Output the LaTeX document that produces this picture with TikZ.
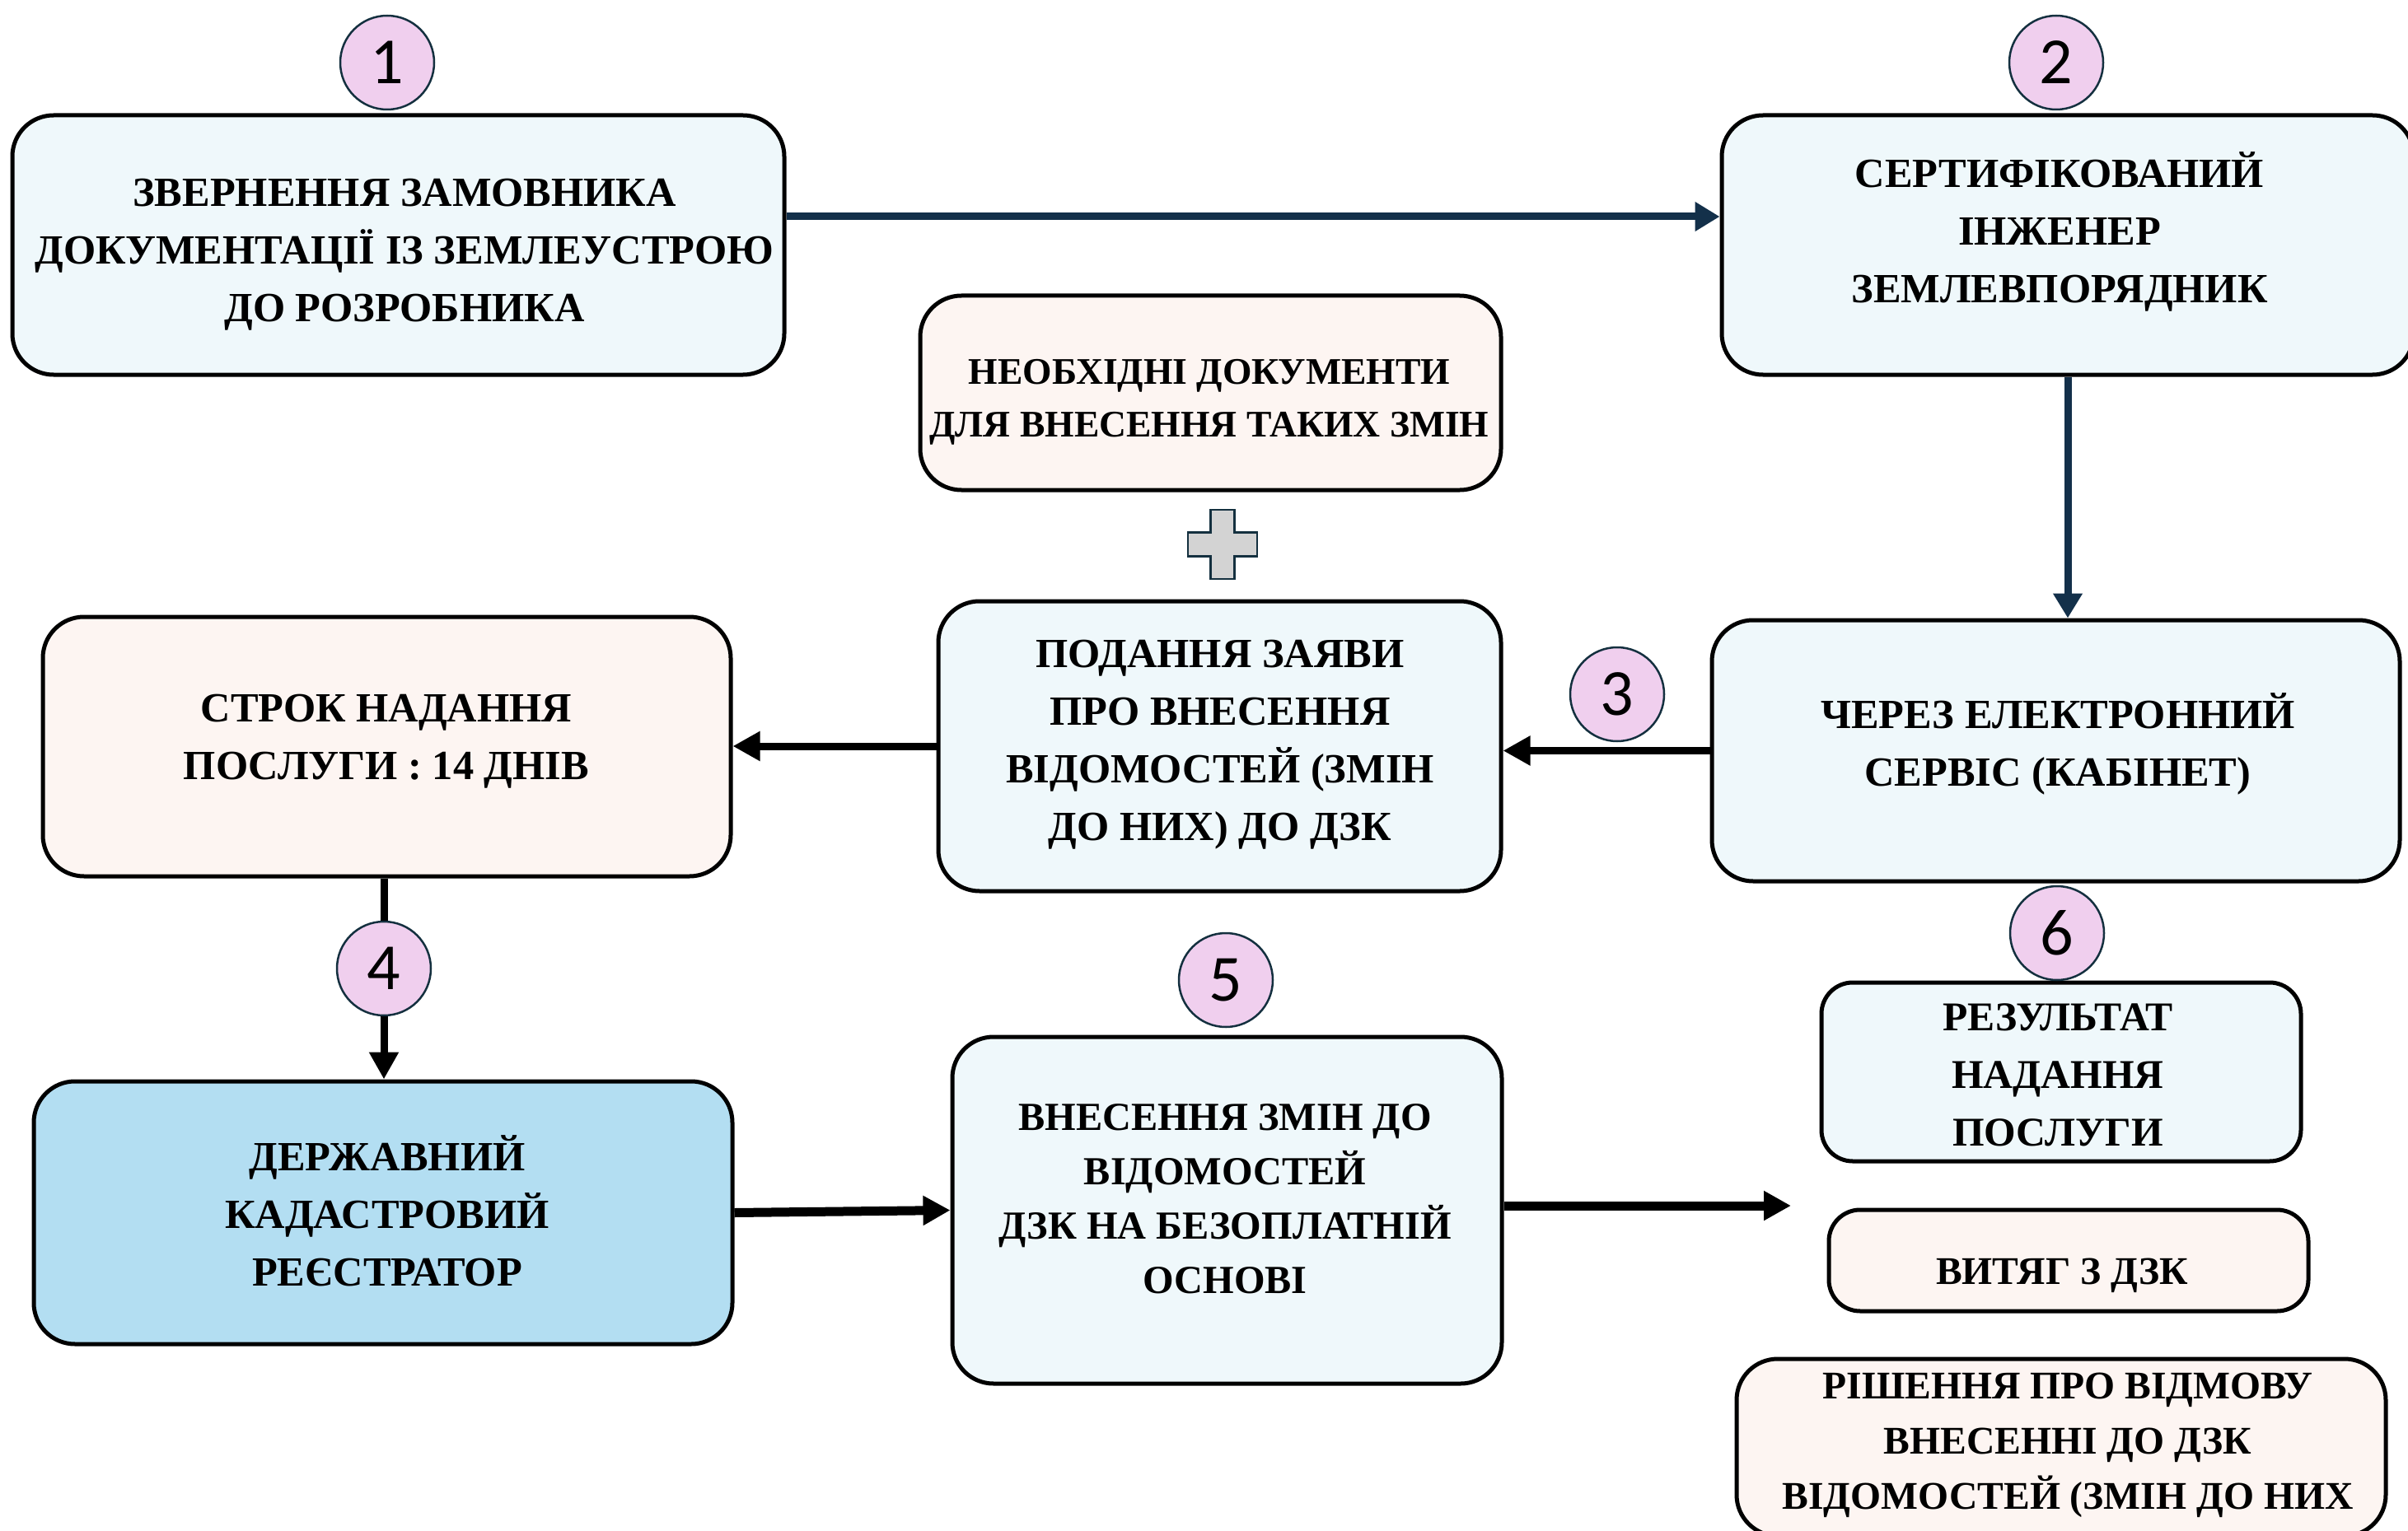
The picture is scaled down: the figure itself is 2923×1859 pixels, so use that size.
\documentclass[tikz,border=0pt]{standalone}
\usepackage{fontspec}
\setmainfont{Liberation Serif}
\newfontfamily\numfont{Carlito}
\usetikzlibrary{arrows.meta,calc}
\definecolor{navy}{HTML}{13304A}
\definecolor{bluefill}{HTML}{EFF8FB}
\definecolor{pinkfill}{HTML}{FDF5F2}
\definecolor{skyfill}{HTML}{B3DEF2}
\definecolor{circfill}{HTML}{F0CFEE}
\definecolor{circline}{HTML}{14303F}
\definecolor{plusfill}{HTML}{D3D3D3}
\begin{document}
\begin{tikzpicture}[x=1pt,y=-1pt,
  boxshape/.style={draw=black, line width=5pt, rounded corners=50pt, inner sep=0pt},
  smallbox/.style={boxshape, rounded corners=38pt},
  txt/.style={align=center, inner sep=0pt, font=\fontsize{50.4}{70}\selectfont\bfseries},
  numc/.style={circle, draw=circline, line width=2.5pt, fill=circfill, minimum size=114pt, inner sep=0pt, font=\numfont\fontsize{80}{80}\selectfont},
  navyarrow/.style={draw=navy, line width=9pt, -{Triangle[length=30pt,width=34pt]}},
  blackarrow/.style={draw=black, line width=9pt, -{Triangle[length=33pt,width=34pt]}},
  thickarrow/.style={blackarrow, line width=11pt},
]
\useasboundingbox (0,0) rectangle (2923,1859);
\fill[white] (0,0) rectangle (2923,1859);

% boxes
\node[boxshape, fill=bluefill, minimum width=937pt, minimum height=315pt] (b1) at (483.5,297.5) {};
\node[boxshape, fill=bluefill, minimum width=840pt, minimum height=315pt] (b2) at (2510,297.5) {};
\node[boxshape, fill=pinkfill, minimum width=705pt, minimum height=236pt] (bnd) at (1469.5,477) {};
\node[boxshape, fill=bluefill, minimum width=683pt, minimum height=352pt] (bp) at (1480.5,906) {};
\node[boxshape, fill=bluefill, minimum width=835pt, minimum height=317pt] (b3) at (2495.5,911.5) {};
\node[boxshape, fill=pinkfill, minimum width=835pt, minimum height=315pt] (bs) at (469.5,906.5) {};
\node[boxshape, fill=skyfill, minimum width=848pt, minimum height=319pt] (bd) at (465,1472.5) {};
\node[boxshape, fill=bluefill, minimum width=667pt, minimum height=421pt] (bv) at (1489.5,1469.5) {};
\node[smallbox, fill=bluefill, minimum width=582pt, minimum height=217pt] (br) at (2502,1301.5) {};
\node[smallbox, fill=pinkfill, minimum width=582pt, minimum height=123pt] (bw) at (2511,1530.5) {};
\node[boxshape, fill=pinkfill, minimum width=788pt, minimum height=215pt] (bx) at (2502,1757.5) {};

% texts
\node[txt] (t1) at (491,309) {ЗВЕРНЕННЯ ЗАМОВНИКА\\ДОКУМЕНТАЦІЇ ІЗ ЗЕМЛЕУСТРОЮ\\ДО РОЗРОБНИКА};
\node[txt] (t2) at (2500,281) {СЕРТИФІКОВАНИЙ\\ІНЖЕНЕР\\ЗЕМЛЕВПОРЯДНИК};
\node[txt, font=\fontsize{45.6}{64}\selectfont\bfseries] (tnd) at (1468,488) {НЕОБХІДНІ ДОКУМЕНТИ\\ДЛЯ ВНЕСЕННЯ ТАКИХ ЗМІН};
\node[txt] (tp) at (1481,904) {ПОДАННЯ ЗАЯВИ\\ПРО ВНЕСЕННЯ\\ВІДОМОСТЕЙ (ЗМІН\\ДО НИХ) ДО ДЗК};
\node[txt] (t3) at (2498,903) {ЧЕРЕЗ ЕЛЕКТРОННИЙ\\СЕРВІС (КАБІНЕТ)};
\node[txt] (ts) at (469,900) {СТРОК НАДАННЯ\\ПОСЛУГИ : 14 ДНІВ};
\node[txt] (td) at (470,1470) {ДЕРЖАВНИЙ\\КАДАСТРОВИЙ\\РЕЄСТРАТОР};
\node[txt, font=\fontsize{48.3}{66}\selectfont\bfseries] (tv) at (1487,1456) {ВНЕСЕННЯ ЗМІН ДО\\ВІДОМОСТЕЙ\\ДЗК НА БЕЗОПЛАТНІЙ\\ОСНОВІ};
\node[txt, font=\fontsize{49.6}{70}\selectfont\bfseries] (tr) at (2498,1305) {РЕЗУЛЬТАТ\\НАДАННЯ\\ПОСЛУГИ};
\node[txt, font=\fontsize{47.6}{70}\selectfont\bfseries] (tw) at (2503,1549) {ВИТЯГ З ДЗК};
\node[txt, font=\fontsize{47.6}{67}\selectfont\bfseries] (tx) at (2510,1755) {РІШЕННЯ ПРО ВІДМОВУ\\ВНЕСЕННІ ДО ДЗК\\ВІДОМОСТЕЙ (ЗМІН ДО НИХ};

% number circles
\node[numc] (c1) at (470,76) {1};
\node[numc] (c2) at (2496,76) {2};
\node[numc] (c3) at (1963,843) {3};
\node[numc] (c4) at (466,1176) {4};
\node[numc] (c5) at (1488,1190) {5};
\node[numc] (c6) at (2497,1133) {6};

% plus sign
\draw[draw=circline, line width=2.5pt, fill=plusfill]
  (1469.5,619) -- (1498.5,619) -- (1498.5,646.5) -- (1526,646.5) -- (1526,675.5)
  -- (1498.5,675.5) -- (1498.5,703) -- (1469.5,703) -- (1469.5,675.5) -- (1442,675.5)
  -- (1442,646.5) -- (1469.5,646.5) -- cycle;

% connectors
\draw[navyarrow] ([yshift=34.5pt]b1.east) -- ([yshift=34.5pt]b2.west);
\draw[navyarrow] (b2.south) -- (b2.south |- b3.north);
\draw[blackarrow] (b3.west) -- (bp.east |- b3.west);
\draw[blackarrow] (bp.west) -- (bs.east |- bp.west);
\draw[draw=black, line width=9pt] (c4 |- bs.south) -- (c4.north);
\draw[blackarrow] (c4.south) -- (c4 |- bd.north);
\draw[thickarrow] (bd.east) -- (bv.west);
\coordinate (e7) at (2174,1464);
\draw[thickarrow] (bv.east |- e7) -- (e7);
\end{tikzpicture}
\end{document}
